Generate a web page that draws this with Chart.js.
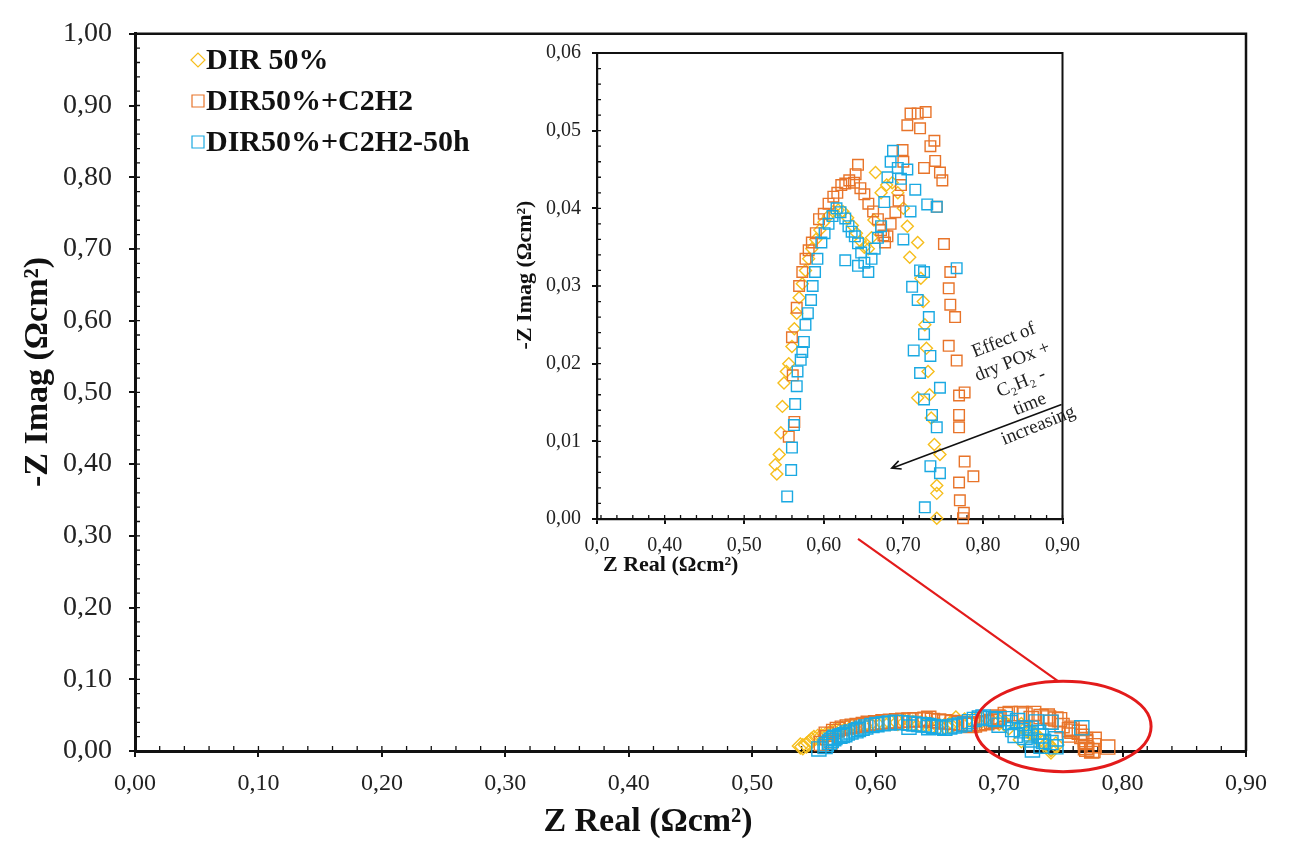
<!DOCTYPE html>
<html>
<head>
<meta charset="utf-8">
<script src="https://cdn.jsdelivr.net/npm/chart.js@4.4.1/dist/chart.umd.min.js"></script>
<style>
  html, body { margin: 0; padding: 0; background: #fff; }
  #wrap { position: relative; width: 1290px; height: 843px; }
  #mainChart { position: absolute; left: 0; top: 0; }
  #insetChart { position: absolute; left: 490px; top: 30px; }
</style>
</head>
<body>
<div id="wrap">
  <canvas id="mainChart" width="1290" height="843"></canvas>
  <canvas id="insetChart" width="600" height="560"></canvas>
</div>
<script>
// series names
const seriesNames = ['DIR 50%', 'DIR50%+C2H2', 'DIR50%+C2H2-50h'];

// DIR 50% (Z real / -Z imag, ohm cm2)
const dir50Real = [0.539, 0.541, 0.544, 0.546, 0.548, 0.550, 0.553, 0.556, 0.560, 0.563, 0.566, 0.569, 0.573, 0.577, 0.581, 0.585, 0.590, 0.595, 0.600, 0.606, 0.612, 0.618, 0.624, 0.630, 0.636, 0.641, 0.646, 0.651, 0.656, 0.660, 0.663, 0.665, 0.672, 0.679, 0.686, 0.693, 0.700, 0.705, 0.718, 0.708, 0.722, 0.725, 0.727, 0.729, 0.731, 0.718, 0.733, 0.735, 0.739, 0.746, 0.742, 0.742, 0.742];
const dir50Imag = [0.0070, 0.0058, 0.0083, 0.0111, 0.0145, 0.0175, 0.0190, 0.0200, 0.0222, 0.0245, 0.0265, 0.0285, 0.0303, 0.0320, 0.0335, 0.0348, 0.0360, 0.0372, 0.0382, 0.0390, 0.0396, 0.0398, 0.0396, 0.0388, 0.0378, 0.0368, 0.0358, 0.0350, 0.0348, 0.0362, 0.0385, 0.0446, 0.0420, 0.0430, 0.0433, 0.0420, 0.0400, 0.0377, 0.0356, 0.0337, 0.0310, 0.0280, 0.0250, 0.0220, 0.0190, 0.0156, 0.0160, 0.0130, 0.0096, 0.0083, 0.0043, 0.0033, 0.0001];

// DIR50%+C2H2
const c2h2Real = [0.556, 0.563, 0.561, 0.560, 0.566, 0.569, 0.573, 0.577, 0.581, 0.585, 0.590, 0.594, 0.600, 0.606, 0.612, 0.617, 0.622, 0.627, 0.632, 0.638, 0.640, 0.643, 0.646, 0.651, 0.656, 0.662, 0.668, 0.672, 0.677, 0.675, 0.680, 0.684, 0.690, 0.694, 0.697, 0.700, 0.699, 0.705, 0.709, 0.718, 0.728, 0.721, 0.726, 0.734, 0.739, 0.740, 0.746, 0.749, 0.742, 0.751, 0.759, 0.757, 0.759, 0.765, 0.757, 0.767, 0.777, 0.770, 0.770, 0.770, 0.777, 0.788, 0.770, 0.771, 0.776, 0.775];
const c2h2Imag = [0.0106, 0.0125, 0.0185, 0.0234, 0.0272, 0.0300, 0.0318, 0.0335, 0.0346, 0.0356, 0.0368, 0.0386, 0.0393, 0.0406, 0.0415, 0.0420, 0.0430, 0.0432, 0.0436, 0.0433, 0.0444, 0.0456, 0.0426, 0.0418, 0.0406, 0.0396, 0.0386, 0.0372, 0.0356, 0.0365, 0.0364, 0.0380, 0.0395, 0.0410, 0.0430, 0.0460, 0.0475, 0.0507, 0.0522, 0.0522, 0.0524, 0.0503, 0.0452, 0.0480, 0.0487, 0.0461, 0.0446, 0.0436, 0.0402, 0.0354, 0.0318, 0.0297, 0.0276, 0.0260, 0.0223, 0.0204, 0.0163, 0.0159, 0.0134, 0.0118, 0.0074, 0.0055, 0.0047, 0.0024, 0.0008, 0.0001];

// DIR50%+C2H2-50h
const c2h2_50hReal = [0.554, 0.559, 0.560, 0.5625, 0.564, 0.566, 0.567, 0.571, 0.573, 0.575, 0.577, 0.580, 0.584, 0.586, 0.589, 0.592, 0.597, 0.601, 0.606, 0.611, 0.616, 0.621, 0.627, 0.631, 0.635, 0.639, 0.643, 0.647, 0.651, 0.656, 0.643, 0.627, 0.660, 0.664, 0.668, 0.672, 0.676, 0.680, 0.684, 0.687, 0.693, 0.697, 0.705, 0.709, 0.715, 0.730, 0.742, 0.700, 0.721, 0.726, 0.711, 0.767, 0.718, 0.732, 0.726, 0.713, 0.734, 0.721, 0.746, 0.726, 0.736, 0.742, 0.734, 0.746, 0.727];
const c2h2_50hImag = [0.0029, 0.0063, 0.0092, 0.0121, 0.0148, 0.0171, 0.0190, 0.0205, 0.0215, 0.0228, 0.0250, 0.0265, 0.0282, 0.0300, 0.0318, 0.0335, 0.0356, 0.0368, 0.0380, 0.0390, 0.0400, 0.0395, 0.0387, 0.0377, 0.0370, 0.0364, 0.0355, 0.0343, 0.0330, 0.0318, 0.0326, 0.0333, 0.0335, 0.0348, 0.0362, 0.0377, 0.0408, 0.0440, 0.0460, 0.0474, 0.0452, 0.0438, 0.0450, 0.0396, 0.0424, 0.0405, 0.0402, 0.0360, 0.0320, 0.0318, 0.0299, 0.0323, 0.0282, 0.0260, 0.0238, 0.0217, 0.0210, 0.0188, 0.0169, 0.0154, 0.0134, 0.0118, 0.0068, 0.0059, 0.0015];

// tick labels
const mainRealTicks = [0, 0.1, 0.2, 0.3, 0.4, 0.5, 0.6, 0.7, 0.8, 0.9];
const mainImagTicks = [0, 0.1, 0.2, 0.3, 0.4, 0.5, 0.6, 0.7, 0.8, 0.9, 1.0];
const insetRealTicks = [0.315, 0.4, 0.5, 0.6, 0.7, 0.8, 0.9];
const insetRealLabels = ['0,0', '0,40', '0,50', '0,60', '0,70', '0,80', '0,90'];
const insetImagTicks = [0, 0.01, 0.02, 0.03, 0.04, 0.05, 0.06];

const colors = ['#F6BE1C', '#E8742A', '#1AA9E2'];
const serif = '"Liberation Serif", "Times New Roman", serif';
const ink = '#111';

function toPoints(xs, ys) {
  return xs.map((x, i) => ({ x: x, y: ys[i] }));
}
function fmt(v, d) {
  return v.toFixed(d).replace('.', ',');
}
function minorSteps(min, max, step) {
  const out = [];
  for (let v = min; v <= max + 1e-9; v += step) out.push(v);
  return out;
}

function makeDatasets(r) {
  const sets = [[dir50Real, dir50Imag], [c2h2Real, c2h2Imag], [c2h2_50hReal, c2h2_50hImag]];
  return sets.map((s, i) => ({
    label: seriesNames[i],
    data: toPoints(s[0], s[1]),
    showLine: false,
    pointStyle: i === 0 ? 'rectRot' : 'rect',
    pointRadius: i === 0 ? r * 0.8 : r,
    pointBorderWidth: 1.4,
    borderColor: colors[i],
    backgroundColor: 'rgba(0,0,0,0)',
    clip: false,
    order: 2 - i
  }));
}

// box, minor ticks, axis titles
const frame = {
  id: 'frame',
  beforeDatasetsDraw(chart, args, o) {
    const { ctx, chartArea: a, scales: { x, y } } = chart;
    ctx.save();
    ctx.strokeStyle = ink;
    ctx.lineWidth = o.boxWidth;
    ctx.beginPath();
    ctx.moveTo(a.left, a.top);
    ctx.lineTo(a.right, a.top);
    ctx.lineTo(a.right, a.bottom);
    ctx.stroke();
    ctx.lineWidth = 1.3;
    ctx.beginPath();
    o.xMinor.forEach(v => {
      const px = x.getPixelForValue(v);
      ctx.moveTo(px, a.bottom);
      ctx.lineTo(px, a.bottom - o.minorLen);
    });
    o.yMinor.forEach(v => {
      const py = y.getPixelForValue(v);
      ctx.moveTo(a.left, py);
      ctx.lineTo(a.left + o.minorLen, py);
    });
    ctx.stroke();

    ctx.fillStyle = ink;
    ctx.font = 'bold ' + o.titleSize + 'px ' + serif;
    ctx.textBaseline = 'middle';
    ctx.textAlign = o.xTitle.align;
    ctx.fillText(o.xTitle.text, o.xTitle.x, o.xTitle.y);
    ctx.translate(o.yTitle.x, o.yTitle.y);
    ctx.rotate(-Math.PI / 2);
    ctx.textAlign = 'center';
    ctx.fillText(o.yTitle.text, 0, 0);
    ctx.restore();
  }
};

// legend in the top-left corner of the main plot
const cornerLegend = {
  id: 'cornerLegend',
  afterDraw(chart, args, o) {
    const ctx = chart.ctx;
    ctx.save();
    ctx.font = 'bold 30px ' + serif;
    ctx.textBaseline = 'middle';
    ctx.fillStyle = ink;
    chart.data.datasets.forEach((ds, i) => {
      const cy = o.top + i * o.gap;
      ctx.strokeStyle = ds.borderColor;
      ctx.lineWidth = 1.2;
      ctx.beginPath();
      if (ds.pointStyle === 'rectRot') {
        ctx.moveTo(o.left - 7, cy); ctx.lineTo(o.left, cy - 7);
        ctx.lineTo(o.left + 7, cy); ctx.lineTo(o.left, cy + 7); ctx.closePath();
      } else {
        ctx.rect(o.left - 6, cy - 6, 12, 12);
      }
      ctx.stroke();
      ctx.fillText(ds.label, o.left + 8, cy + 1);
    });
    ctx.restore();
  }
};

// red ellipse + leader line (main chart)
const zoomMark = {
  id: 'zoomMark',
  afterDatasetsDraw(chart) {
    const { ctx, scales: { x, y } } = chart;
    const cx = x.getPixelForValue(0.7518), cy = y.getPixelForValue(0.0342);
    const rx = x.getPixelForValue(0.7518 + 0.0713) - cx;
    const ry = cy - y.getPixelForValue(0.0342 + 0.063);
    ctx.save();
    ctx.strokeStyle = '#E31B1B';
    ctx.lineWidth = 3;
    ctx.beginPath();
    ctx.ellipse(cx, cy, rx, ry, 0, 0, Math.PI * 2);
    ctx.stroke();
    ctx.lineWidth = 2.2;
    ctx.beginPath();
    ctx.moveTo(x.getPixelForValue(0.5857), y.getPixelForValue(0.2959));
    ctx.lineTo(x.getPixelForValue(0.7477), y.getPixelForValue(0.0973));
    ctx.stroke();
    ctx.restore();
  }
};

// arrow + rotated note (inset)
const trendNote = {
  id: 'trendNote',
  afterDatasetsDraw(chart) {
    const { ctx, scales: { x, y } } = chart;
    const x0 = x.getPixelForValue(0.8988), y0 = y.getPixelForValue(0.01475);
    const x1 = x.getPixelForValue(0.6854), y1 = y.getPixelForValue(0.00655);
    const ang = Math.atan2(y1 - y0, x1 - x0);
    ctx.save();
    ctx.strokeStyle = ink;
    ctx.lineWidth = 1.6;
    ctx.beginPath();
    ctx.moveTo(x0, y0);
    ctx.lineTo(x1, y1);
    ctx.moveTo(x1 - 10 * Math.cos(ang - 0.45), y1 - 10 * Math.sin(ang - 0.45));
    ctx.lineTo(x1, y1);
    ctx.lineTo(x1 - 10 * Math.cos(ang + 0.45), y1 - 10 * Math.sin(ang + 0.45));
    ctx.stroke();

    const lines = ['Effect of', 'dry POx +', 'C\u2082H\u2082 -', 'time', 'increasing'];
    ctx.translate(x.getPixelForValue(0.848), y.getPixelForValue(0.0175));
    ctx.rotate(-22 * Math.PI / 180);
    ctx.font = '19px ' + serif;
    ctx.fillStyle = '#222';
    ctx.textAlign = 'center';
    ctx.textBaseline = 'middle';
    lines.forEach((t, i) => ctx.fillText(t, 0, (i - 2) * 23));
    ctx.restore();
  }
};

function axisOpts(ticks, labelFn, fontSize, pad, tickLen, border, fitKey, fitVal) {
  return {
    type: 'linear',
    min: ticks[0],
    max: ticks[ticks.length - 1],
    afterBuildTicks: s => { s.ticks = ticks.map(v => ({ value: v })); },
    afterFit: s => { s[fitKey] = fitVal; },
    ticks: {
      callback: labelFn,
      font: { family: serif, size: fontSize },
      color: '#222',
      padding: pad,
      maxRotation: 0,
      autoSkip: false
    },
    grid: { drawOnChartArea: false, drawTicks: true, tickLength: tickLen, color: ink, lineWidth: 2 },
    border: { display: true, color: ink, width: border }
  };
}

new Chart(document.getElementById('mainChart'), {
  type: 'scatter',
  data: { datasets: makeDatasets(10) },
  options: {
    responsive: false,
    animation: false,
    events: [],
    layout: { padding: { left: 0, top: 21, right: 44, bottom: 0 } },
    scales: {
      x: axisOpts(mainRealTicks, v => fmt(v, 2), 24, 12, 6, 3, 'height', 92),
      y: axisOpts(mainImagTicks, v => fmt(v, 2), 28, 17, 6, 3, 'width', 135)
    },
    plugins: {
      legend: { display: false },
      tooltip: { enabled: false },
      frame: {
        boxWidth: 2.5, minorLen: 5, titleSize: 34,
        xMinor: minorSteps(0, 0.9, 0.02), yMinor: minorSteps(0, 1.0, 0.02),
        xTitle: { text: 'Z Real (\u03A9cm\u00B2)', x: 648, y: 822, align: 'center' },
        yTitle: { text: '-Z Imag (\u03A9cm\u00B2)', x: 38, y: 372 }
      },
      cornerLegend: { left: 198, top: 60, gap: 41 }
    }
  },
  plugins: [frame, zoomMark, cornerLegend]
});

new Chart(document.getElementById('insetChart'), {
  type: 'scatter',
  data: { datasets: makeDatasets(7.5) },
  options: {
    responsive: false,
    animation: false,
    events: [],
    layout: { padding: { left: 0, top: 13, right: 23, bottom: 0 } },
    scales: {
      x: axisOpts(insetRealTicks, (v, i) => insetRealLabels[i], 20, 10, 5, 2.2, 'height', 71),
      y: axisOpts(insetImagTicks, v => fmt(v, 2), 20, 11, 5, 2.2, 'width', 107)
    },
    plugins: {
      legend: { display: false },
      tooltip: { enabled: false },
      frame: {
        boxWidth: 2, minorLen: 4, titleSize: 22,
        xMinor: minorSteps(0.32, 0.9, 0.02), yMinor: minorSteps(0, 0.06, 0.002),
        xTitle: { text: 'Z Real (\u03A9cm\u00B2)', x: 113, y: 535, align: 'left' },
        yTitle: { text: '-Z Imag (\u03A9cm\u00B2)', x: 35, y: 245 }
      }
    }
  },
  plugins: [frame, trendNote]
});
</script>
</body>
</html>
